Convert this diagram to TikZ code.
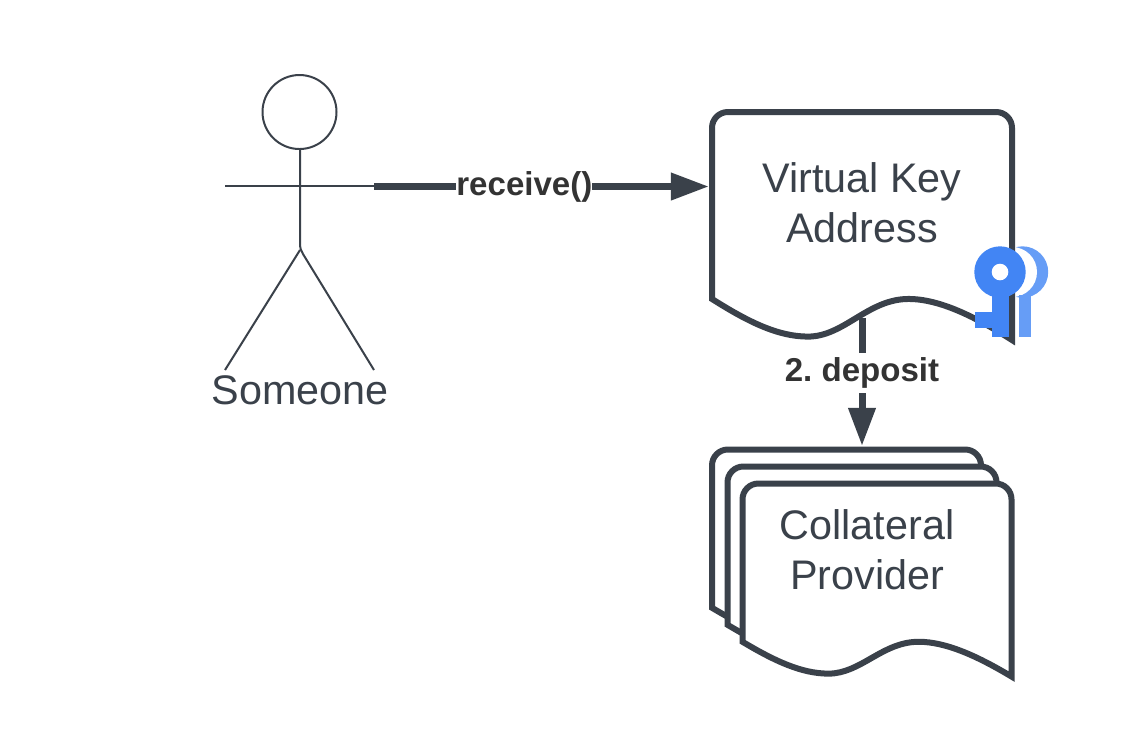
\documentclass[tikz,border=0pt]{standalone}
\usepackage{fontspec}
\setmainfont{Liberation Sans}
\usetikzlibrary{arrows.meta}
\definecolor{slate}{HTML}{3A414A}
\definecolor{labelink}{HTML}{333333}
\definecolor{keyblue}{HTML}{4285F4}
\definecolor{keylight}{HTML}{669DF6}
\tikzset{
    docline/.style = {slate, line width = 0.06cm, fill = white, miter limit = 10},
    docanchor/.style = {inner sep = 0, outer sep = 0},
    doctext/.style = {slate, align = center, font = \fontsize{11.75}{14.2}\selectfont},
    actorline/.style = {slate, line width = 0.02cm},
    flow/.style = {slate, line width = 0.07cm, -{Triangle[length = 0.38cm, width = 0.26cm]}},
    flowlabel/.style = {fill = white, text = labelink, inner xsep = 0, inner ysep = 0,
        minimum height = 0.4cm, font = \fontsize{9.4}{11}\selectfont\bfseries}
}
% x y width height, everything in reference pixels
\newcommand{\docshape}[4]{
    \begin{scope}[shift = {(#1, #2)}, xscale = #3, yscale = #4]
        \draw[docline] (0, 0.82) [rounded corners = 4.5pt] -- (0, 0) -- (1, 0) [sharp corners] -- (1, 1)
            .. controls (0.88, 0.90) and (0.76, 0.82) .. (0.655, 0.82)
            .. controls (0.52, 0.82) and (0.44, 0.985) .. (0.32, 0.985)
            .. controls (0.22, 0.985) and (0.12, 0.92) .. (0, 0.82) -- cycle;
    \end{scope}
}
\begin{document}
\begin{tikzpicture}[x = 0.01cm, y = -0.01cm]
    \useasboundingbox (0, 0) rectangle (1127, 750);

    % someone
    \draw[actorline] (299.5, 112) circle (37);
    \draw[actorline] (225, 186) -- (374, 186);
    \draw[actorline] (300, 149) -- (300, 243) .. controls (300, 248) and (301, 251) .. (303, 254) -- (374, 370);
    \draw[actorline] (300, 250) -- (225, 370);
    \coordinate (armend) at (374, 186.5);
    \node[doctext] (someone) at (300, 390) {Someone};

    % virtual key address
    \docshape{712}{112}{300}{228}
    \node[docanchor, minimum width = 3.06cm, minimum height = 2.08cm] (addressbox) at (862, 214) {};
    \node[doctext] (address) at (862, 203) {Virtual Key\\Address};

    % collateral stack
    \docshape{712}{449.5}{269}{193}
    \docshape{727.5}{466.5}{269}{193}
    \docshape{742.5}{483.5}{269}{193}
    \node[docanchor, minimum width = 3.00cm, minimum height = 2.30cm] (providerbox) at (862, 561) {};
    \node[doctext] (provider) at (867, 550) {Collateral\\Provider};

    % keys
    \begin{scope}
        \clip (1016, 240) rectangle (1060, 345);
        \fill[keylight] (1022.5, 272) circle (25.7);
        \fill[white] (1012, 272) circle (25);
        \fill[keylight] (1019, 295) rectangle (1031, 337);
    \end{scope}
    \fill[keyblue] (1000, 272) circle (25.7);
    \fill[keyblue] (992, 290) rectangle (1009, 337);
    \fill[keyblue] (975, 312) rectangle (992, 328);
    \fill[white] (1000, 272) circle (8.3);

    % connectors
    \draw[flow] (armend) -- node[flowlabel, pos = 0.449] (receive) {receive()} (addressbox.west |- armend);
    \draw[flow] (addressbox.south) -- node[flowlabel, pos = 0.43] (deposit) {2.\ deposit} (providerbox.north);
\end{tikzpicture}
\end{document}
